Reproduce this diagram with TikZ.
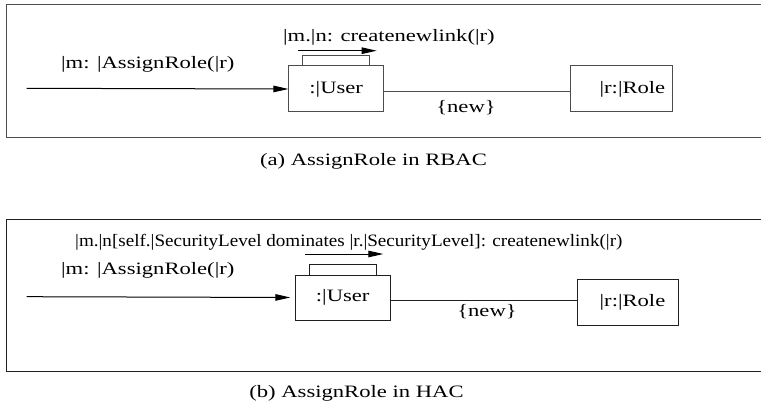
\documentclass[tikz,border=0pt]{standalone}
\usepackage{fontspec}
\setmainfont{Liberation Serif}[FakeStretch=1.3]
\usetikzlibrary{arrows.meta}
\begin{document}
\begin{tikzpicture}[x=1pt,y=-1pt,
  every node/.style={font=\fontsize{17.4}{20}\selectfont},
  lbl/.style={anchor=base west,inner sep=0pt},
  ctr/.style={anchor=base,inner sep=0pt},
  objbox/.style={draw,rectangle,line width=1pt,inner sep=0pt},
  lnA/.style={line width=1pt,draw=black!70},
  lnB/.style={line width=1pt,draw=black!88},
  msg/.style={-{Triangle[length=15pt,width=6.5pt]}},
]
\useasboundingbox (0,0) rectangle (761,404);

% ---------- (a) AssignRole in RBAC ----------
\draw[lnA] (770,5) -- (6,5) -- (6,137) -- (770,137);

\node[objbox,lnA,minimum width=94.5pt,minimum height=46pt] (userA) at (336.2,89) {:|User};
\node[objbox,lnA,minimum width=101.3pt,minimum height=46pt,
      text width=87.3pt,inner xsep=7pt,align=right] (roleA) at (621.6,89) {|r:|Role};

% tab on top of the object box and the self message arrow
\draw[lnA] ([xshift=-34pt]userA.north) |- ++(67.7,-10) |- ([xshift=33.7pt]userA.north);
\coordinate (selfAs) at (298.3,50.7);
\coordinate (selfAe) at (376.7,50.7);
\draw[lnA,draw=black,msg] (selfAs) -- (selfAe);
\node[lbl] (selfAlbl) at (283,42) {|m.|n: createnewlink(|r)};

% incoming message
\coordinate (inA) at (26.7,88.3);
\draw[lnA,draw=black,msg] (inA) -- (userA.west);
\node[lbl] (inAlbl) at (61,68.3) {|m: |AssignRole(|r)};

% new link
\draw[lnA] ([yshift=-3pt]userA.east) -- ([yshift=-3pt]userA.east -| roleA.west);
\node[ctr] (newA) at (466,113) {\{new\}};

\node[ctr] (capA) at (373.5,165) {(a) AssignRole in RBAC};

% ---------- (b) AssignRole in HAC ----------
\draw[lnB] (770,219) -- (6,219) -- (6,371.7) -- (770,371.7);

\node[objbox,lnB,minimum width=94.7pt,minimum height=45pt] (userB) at (342.7,297.5) {:|User};
\node[objbox,lnB,minimum width=101pt,minimum height=45.7pt,
      text width=75pt,inner xsep=13pt,align=right] (roleB) at (627.8,302.8) {|r:|Role};

\draw[lnB] ([xshift=-33.7pt]userB.north) |- ++(67.7,-10) |- ([xshift=34pt]userB.north);
\coordinate (selfBs) at (305,254);
\coordinate (selfBe) at (383.3,254);
\draw[lnB,draw=black,msg] (selfBs) -- (selfBe);
\node[lbl] (selfBlbl) at (75,246.5)
  {\scalebox{0.844}[1]{|m.|n[self.|SecurityLevel dominates |r.|SecurityLevel]: createnewlink(|r)}};

\coordinate (inB) at (26.7,296.7);
\draw[lnB,draw=black,msg,shorten >=4.5pt] (inB) -- (userB.west);
\node[lbl] (inBlbl) at (61,274) {|m: |AssignRole(|r)};

\draw[lnB] ([yshift=-2.5pt]userB.east) -- ([yshift=-2.5pt]userB.east -| roleB.west);
\node[ctr] (newB) at (487,316.5) {\{new\}};

\node[ctr] (capB) at (356.5,397) {(b) AssignRole in HAC};
\end{tikzpicture}
\end{document}
